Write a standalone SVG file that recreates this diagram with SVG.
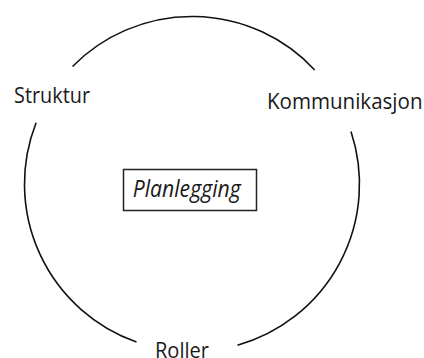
<svg xmlns="http://www.w3.org/2000/svg" width="424" height="358" viewBox="0 0 424 358">
<style>
.arc{fill:none;stroke:#111;stroke-width:1.6}
.lbl{font-family:"Open Sans","Noto Sans",sans-serif;font-size:21px;fill:#1a1a1a}
.ital{font-family:"Open Sans","Noto Sans",sans-serif;font-size:24px;font-style:italic;fill:#1a1a1a}
.box{fill:#fff;stroke:#222;stroke-width:1.5}
</style>
<rect width="424" height="358" fill="#fff"/>
<g id="connectors">
<path class="arc" d="M72.5,66.5 A167.5,167.5 0 0 1 314.7,70"/>
<path class="arc" d="M36.1,122.7 A167.5,167.5 0 0 0 136.5,342"/>
<path class="arc" d="M351,131.4 A167.5,167.5 0 0 1 237.5,345.2"/>
</g>
<g id="struktur"><text class="lbl" x="14" y="103.3" textLength="76" lengthAdjust="spacingAndGlyphs">Struktur</text></g>
<g id="kommunikasjon"><text class="lbl" x="267" y="109" textLength="155.5" lengthAdjust="spacingAndGlyphs">Kommunikasjon</text></g>
<g id="roller"><text class="lbl" x="155" y="357.5" textLength="54" lengthAdjust="spacingAndGlyphs">Roller</text></g>
<g id="planlegging">
<rect class="box" x="123.5" y="169.5" width="133" height="41"/>
<text class="ital" x="132.7" y="196.7" textLength="108" lengthAdjust="spacingAndGlyphs">Planlegging</text>
</g>
</svg>
